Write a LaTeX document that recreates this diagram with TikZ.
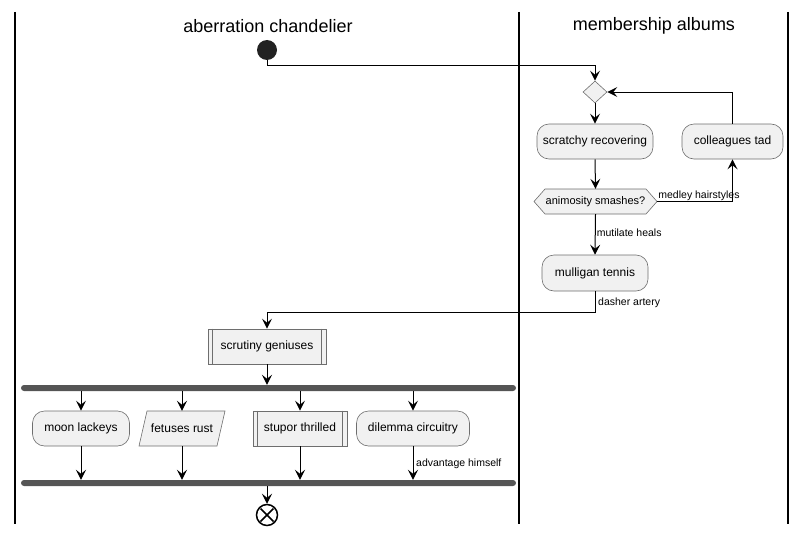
\documentclass[tikz,border=0pt]{standalone}
\usepackage{fontspec}
\setmainfont{Liberation Sans}
\usetikzlibrary{arrows.meta,shapes.geometric,calc}
\definecolor{boxfill}{HTML}{F1F1F1}
\definecolor{boxline}{HTML}{6E6E6E}
\definecolor{barfill}{HTML}{555555}
\definecolor{startfill}{HTML}{222222}
\tikzset{
  x=1pt,y=-1pt,
  lane/.style={line width=1.2pt,black},
  lanetitle/.style={font=\fontsize{18}{21}\selectfont,inner sep=0pt},
  act/.style={draw=boxline,fill=boxfill,line width=0.6pt,rounded corners=12pt,
    minimum height=35pt,inner sep=0pt,font=\fontsize{12}{14}\selectfont},
  subproc/.style={draw=boxline,fill=boxfill,line width=0.6pt,
    minimum height=35pt,inner sep=0pt,font=\fontsize{12}{14}\selectfont},
  plain/.style={inner sep=0pt,minimum height=35pt,font=\fontsize{12}{14}\selectfont},
  flow/.style={line width=1pt,black,-{Stealth[length=10pt,width=10pt,inset=4pt]}},
  seg/.style={line width=1pt,black},
  lbl/.style={font=\fontsize{10.5}{12}\selectfont,inner sep=1pt},
  bar/.style={fill=barfill,rounded corners=3pt,minimum height=6pt,inner sep=0pt,draw=none},
}
\begin{document}
\begin{tikzpicture}
\useasboundingbox (0,0) rectangle (805,535);
% lanes
\draw[lane] (15,12) -- (15,524);
\draw[lane] (519,12) -- (519,524);
\draw[lane] (788,12) -- (788,524);
\node[lanetitle] (t1) at (268,26) {aberration chandelier};
\node[lanetitle] (t2) at (654,26) {membership albums};

% start
\node[circle,fill=startfill,minimum size=20pt,inner sep=0pt] (start) at (267,50) {};
\coordinate (c1) at (595,65);
% diamond
\node[diamond,draw=boxline,fill=boxfill,line width=0.6pt,minimum width=24pt,minimum height=22pt,inner sep=0pt] (d1) at (595,92) {};
\node[act,minimum width=116pt] (sr) at (595,141.5) {scratchy recovering};
\node[act,minimum width=101pt] (ct) at (732.5,141.5) {colleagues tad};
% hexagon
\node[plain,minimum width=123pt,minimum height=25pt] (hx) at (595.5,201.5) {};
\fill[boxfill] (534,201.5) -- (545,189) -- (646,189) -- (657,201.5) -- (646,214) -- (545,214) -- cycle;
\draw[boxline,line width=0.6pt] (534,201.5) -- (545,189) -- (646,189) -- (657,201.5) -- (646,214) -- (545,214) -- cycle;
\node[font=\fontsize{11}{13}\selectfont,inner sep=0pt] at (595.5,201.5) {animosity smashes?};
\node[act,minimum width=106pt,minimum height=36pt] (mt) at (595,273) {mulligan tennis};

% subprocess
\node[subproc,minimum width=118pt] (sg) at (267,346.5) {scrutiny geniuses};
\draw[boxline,line width=0.6pt] ([xshift=5pt]sg.north west) -- ([xshift=5pt]sg.south west);
\draw[boxline,line width=0.6pt] ([xshift=-5pt]sg.north east) -- ([xshift=-5pt]sg.south east);

% bars
\node[bar,minimum width=495pt] (fork) at (268.5,388) {};
\node[bar,minimum width=495pt] (join) at (268.5,483) {};

% branches
\node[act,minimum width=97pt] (ml) at (81,428.5) {moon lackeys};
\node[plain,minimum width=80pt] (fr) at (182,428.5) {};
\fill[boxfill] (139,446) -- (147,411) -- (225,411) -- (217,446) -- cycle;
\draw[boxline,line width=0.6pt] (139,446) -- (147,411) -- (225,411) -- (217,446) -- cycle;
\node[font=\fontsize{12}{14}\selectfont,inner sep=0pt] at (182,428.5) {fetuses rust};
\node[subproc,minimum width=94pt] (st) at (300,428.5) {stupor thrilled};
\draw[boxline,line width=0.6pt] ([xshift=5pt]st.north west) -- ([xshift=5pt]st.south west);
\draw[boxline,line width=0.6pt] ([xshift=-5pt]st.north east) -- ([xshift=-5pt]st.south east);
\node[act,minimum width=113pt] (dc) at (413,428.5) {dilemma circuitry};

% end
\node[circle,draw=black,line width=1.5pt,fill=white,minimum size=21pt,inner sep=0pt] (end) at (267,515) {};
\draw[line width=1.5pt] ($(end.center)+(-6.5,-6.5)$) -- ($(end.center)+(6.5,6.5)$);
\draw[line width=1.5pt] ($(end.center)+(-6.5,6.5)$) -- ($(end.center)+(6.5,-6.5)$);

% connectors
\draw[flow] (start) |- (c1) -- (d1.north);
\draw[flow] (d1.south) -- (sr.north);
\draw[flow] (sr.south) -- (hx.north);
\draw[flow] (hx.east) -| (ct.south);
\node[lbl,anchor=south west] at (hx.east) {medley hairstyles};
\draw[flow] (ct.north) |- (d1.east);
\draw[flow] (hx.south) -- node[lbl,right,pos=0.45] {mutilate heals} (mt.north);
\coordinate (c2) at (595,312);
\draw[flow] (mt.south) -- (c2) -| (sg.north);
\node[lbl,anchor=west] at (597,303) {dasher artery};
\draw[flow] (sg.south) -- (sg.south |- fork.north);
\draw[flow] (ml.north |- fork.south) -- (ml.north);
\draw[flow] (fr.north |- fork.south) -- (fr.north);
\draw[flow] (st.north |- fork.south) -- (st.north);
\draw[flow] (dc.north |- fork.south) -- (dc.north);
\draw[flow] (ml.south) -- (ml.south |- join.north);
\draw[flow] (fr.south) -- (fr.south |- join.north);
\draw[flow] (st.south) -- (st.south |- join.north);
\draw[flow] (dc.south) -- (dc.south |- join.north);
\node[lbl,anchor=west] at (415,464) {advantage himself};
\draw[flow] (end.north |- join.south) -- (end.north);
\end{tikzpicture}
\end{document}
